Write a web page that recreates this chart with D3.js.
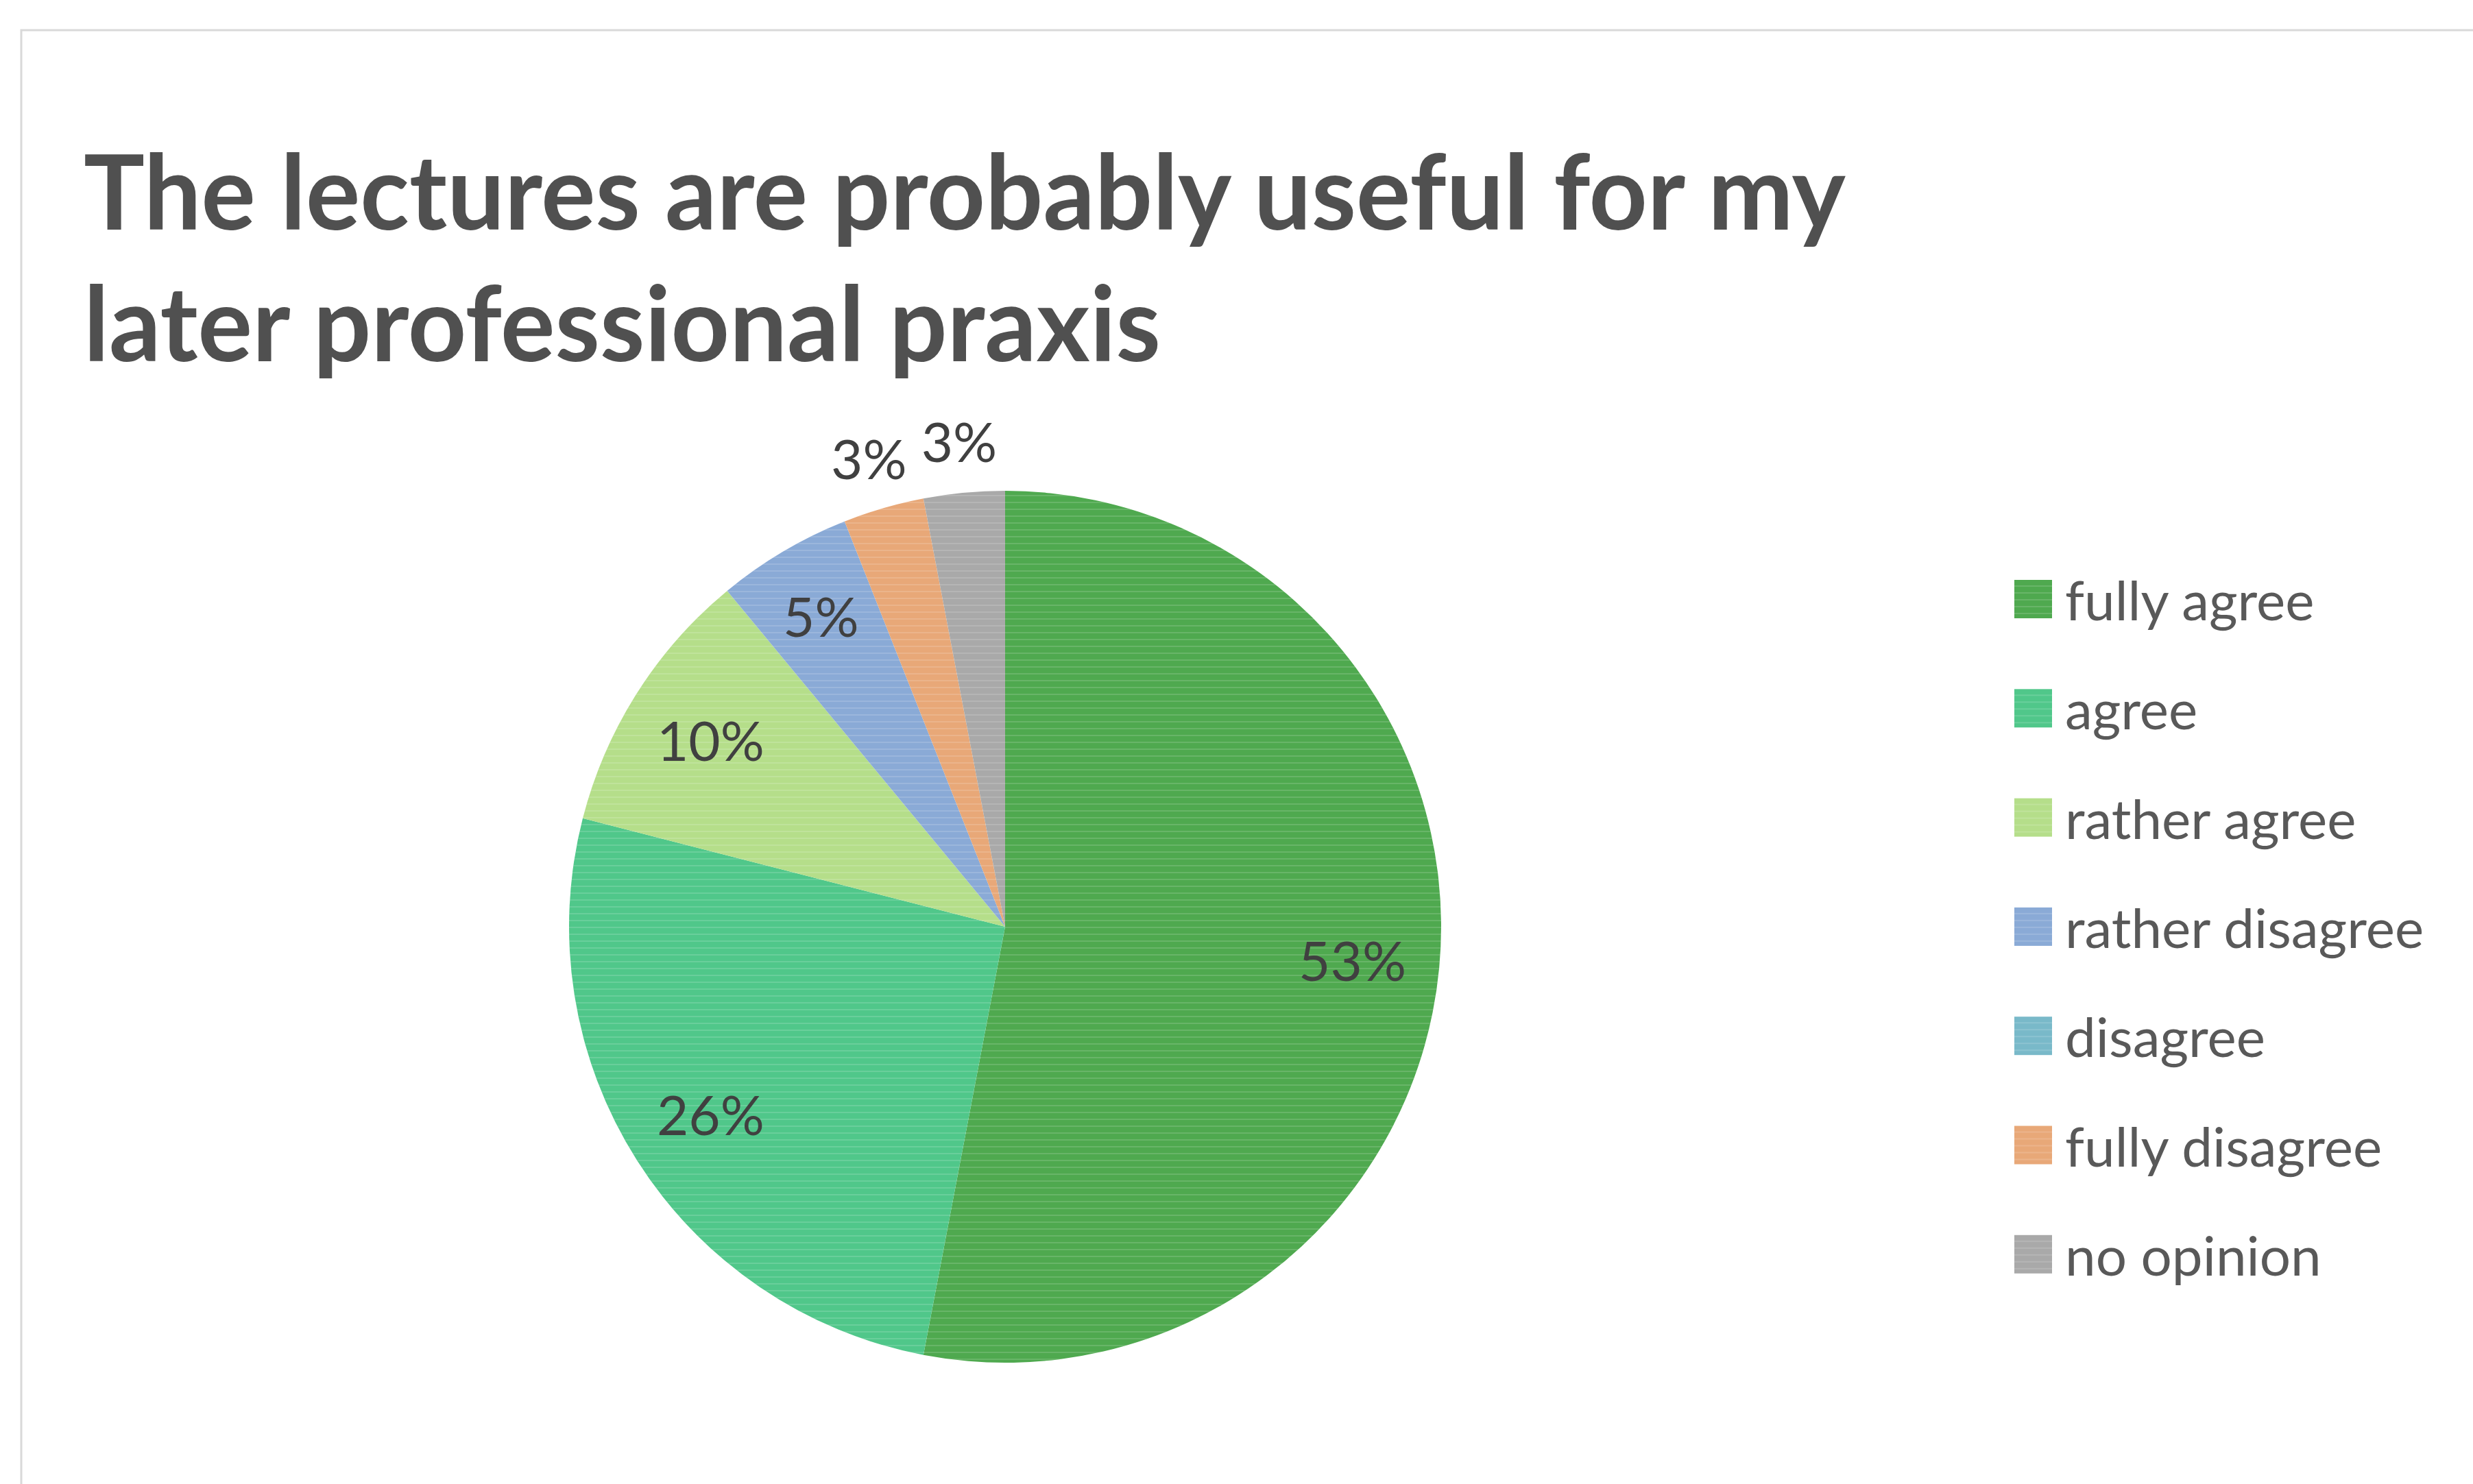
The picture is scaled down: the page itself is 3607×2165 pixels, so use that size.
<!DOCTYPE html>
<html>
<head>
<meta charset="utf-8">
<script src="https://cdn.jsdelivr.net/npm/d3@7"></script>
<style>
  html, body { margin: 0; padding: 0; background: #ffffff; }
  svg { display: block; }
</style>
</head>
<body>
<script>
// Survey answers for the statement in the title
const categories = ["fully agree", "agree", "rather agree", "rather disagree", "disagree", "fully disagree", "no opinion"];
const shares = [53, 26, 10, 5, 0, 3, 3];
const sliceColors = ["#4fa94f", "#50c78a", "#b5de8a", "#8aaad6", "#79b9c9", "#e8a878", "#a9a9a9"];
const titleLines = ["The lectures are probably useful for my", "later professional praxis"];

const W = 3607, H = 2165;
const font = "Lato, 'Open Sans', sans-serif";

const svg = d3.select("body").append("svg")
  .attr("width", W).attr("height", H);

// faint horizontal banding on filled areas
const defs = svg.append("defs");
const pat = defs.append("pattern")
  .attr("id", "bands").attr("patternUnits", "userSpaceOnUse")
  .attr("width", 40).attr("height", 10);
pat.append("rect").attr("x", 0).attr("y", 0).attr("width", 40).attr("height", 2)
  .attr("fill", "#ffffff").attr("fill-opacity", 0.14);

// chart area frame
svg.append("rect")
  .attr("x", 31).attr("y", 44)
  .attr("width", W).attr("height", H)
  .attr("fill", "none").attr("stroke", "#d9d9d9").attr("stroke-width", 3);

// title
const title = svg.append("g").attr("fill", "#505050")
  .attr("font-family", font).attr("font-weight", 700);
const titleWidths = [2570, 1571];
title.selectAll("text").data(titleLines).join("text")
  .attr("x", 122)
  .attr("y", (d, i) => 335 + i * 192)
  .attr("font-size", 152)
  .attr("textLength", (d, i) => titleWidths[i])
  .attr("lengthAdjust", "spacingAndGlyphs")
  .text(d => d);

// pie
const cx = 1466, cy = 1352, R = 636;
const color = d3.scaleOrdinal().domain(categories).range(sliceColors);
const pie = d3.pie().sort(null).value(d => d.value).startAngle(0).endAngle(2 * Math.PI);
const rows = categories.map((c, i) => ({ name: c, value: shares[i] }));
const arcs = pie(rows);
const arc = d3.arc().innerRadius(0).outerRadius(R);

const g = svg.append("g").attr("transform", `translate(${cx},${cy})`);
g.selectAll("path.slice").data(arcs).join("path")
  .attr("class", "slice")
  .attr("d", arc)
  .attr("fill", d => color(d.data.name));
g.selectAll("path.band").data(arcs).join("path")
  .attr("class", "band")
  .attr("d", arc)
  .attr("fill", "url(#bands)");

// percentage labels: inside for larger slices, just outside the rim for small ones
const labelArc = d => {
  const r = d.data.value < 4 ? R * 1.12 : (d.data.value < 8 ? R * 0.83 : R * 0.8);
  return d3.arc().innerRadius(r).outerRadius(r);
};
g.selectAll("text.lbl").data(arcs.filter(d => d.data.value > 0)).join("text")
  .attr("class", "lbl")
  .attr("transform", d => `translate(${labelArc(d).centroid(d)})`)
  .attr("text-anchor", "middle")
  .attr("dominant-baseline", "central")
  .attr("font-family", font)
  .attr("font-size", 80)
  .attr("fill", "#404040")
  .text(d => d3.format(".0%")(d.data.value / 100));

// legend
const legend = svg.append("g").attr("transform", "translate(2938, 874)");
const item = legend.selectAll("g").data(categories).join("g")
  .attr("transform", (d, i) => `translate(0, ${i * 159.3})`);
item.append("rect")
  .attr("x", 0).attr("y", -28).attr("width", 55).attr("height", 56)
  .attr("fill", d => color(d));
item.append("rect")
  .attr("x", 0).attr("y", -28).attr("width", 55).attr("height", 56)
  .attr("fill", "url(#bands)");
item.append("text")
  .attr("x", 74).attr("y", 0)
  .attr("dominant-baseline", "central")
  .attr("font-family", font)
  .attr("font-size", 80)
  .attr("fill", "#595959")
  .text(d => d);
</script>
</body>
</html>
